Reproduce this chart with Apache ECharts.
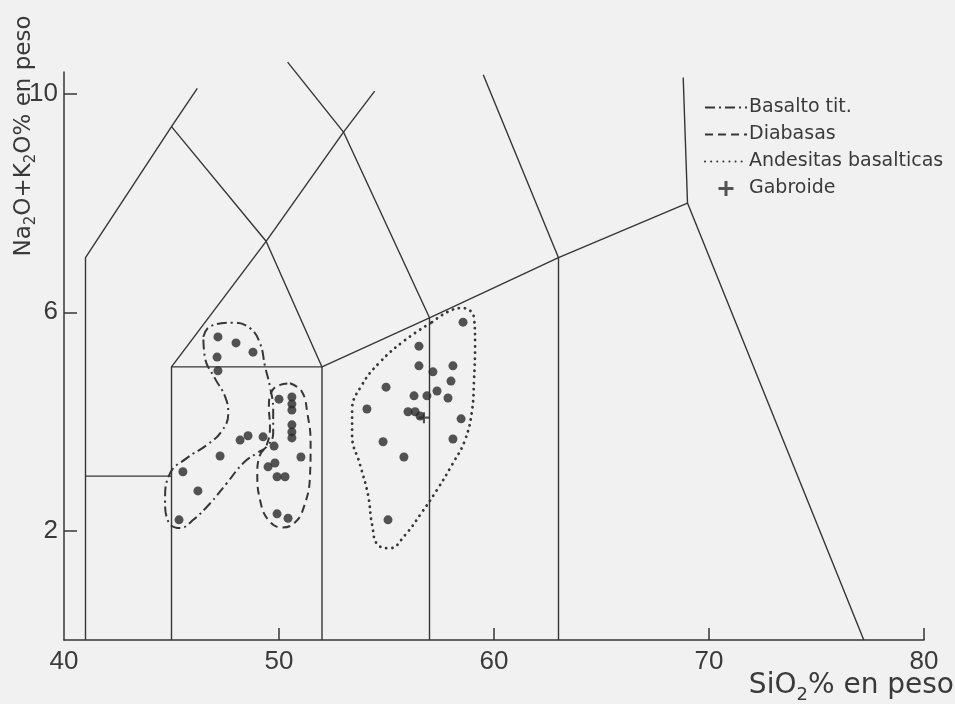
<!DOCTYPE html>
<html>
<head>
<meta charset="utf-8">
<script src="https://cdn.jsdelivr.net/npm/echarts@6/dist/echarts.min.js"></script>
<style>
html,body{margin:0;padding:0;background:#f1f1f1;}
#chart{width:955px;height:704px;}
</style>
</head>
<body>
<div id="chart"></div>
<script>
// ---- Data (SiO2 wt%, Na2O+K2O wt%) ----
const xTickLabels = [40, 50, 60, 70, 80];
const xTicks = [50, 60, 70, 80];
const yTickLabels = [2, 6, 10];

// TAS field boundaries
const tasLines = [
  [[41, 0], [41, 7], [45, 9.4], [46.2, 10.1]],
  [[41, 3], [45, 3]],
  [[45, 0], [45, 5], [49.4, 7.3], [53, 9.3], [54.45, 10.05]],
  [[45, 9.4], [49.4, 7.3], [52, 5]],
  [[45, 5], [52, 5], [57, 5.9], [63, 7], [69, 8]],
  [[52, 0], [52, 5]],
  [[57, 0], [57, 5.9]],
  [[63, 0], [63, 7]],
  [[50.4, 10.58], [53, 9.3], [57, 5.9]],
  [[59.5, 10.35], [63, 7]],
  [[68.8, 10.3], [69, 8], [77.2, 0]]
];

// Samples
const basaltoPts = [
  [47.16, 5.55], [48.0, 5.44], [47.12, 5.18], [48.79, 5.27], [47.16, 4.93],
  [48.19, 3.66], [48.56, 3.74], [49.26, 3.72], [47.26, 3.37], [45.53, 3.08],
  [46.23, 2.73], [45.35, 2.20]
];
const diabasasPts = [
  [50.0, 4.41], [50.6, 4.45], [50.6, 4.32], [50.6, 4.21], [50.6, 3.94],
  [50.6, 3.81], [50.6, 3.70], [49.77, 3.55], [51.02, 3.35], [49.81, 3.24],
  [49.49, 3.17], [49.91, 2.99], [50.28, 2.99], [49.91, 2.31], [50.42, 2.23]
];
const andesitasPts = [
  [58.56, 5.82], [56.51, 5.38], [56.51, 5.02], [58.09, 5.02], [57.16, 4.91],
  [58.0, 4.74], [54.98, 4.63], [57.35, 4.56], [56.28, 4.47], [56.88, 4.47],
  [57.86, 4.43], [54.09, 4.23], [56.0, 4.18], [56.33, 4.18], [56.56, 4.10],
  [58.47, 4.05], [58.09, 3.68], [54.84, 3.63], [55.81, 3.35], [55.07, 2.20]
];
const gabroidePts = [[56.74, 4.07]];

// Group outlines
const basaltoEnv = [
  [46.48, 5.55], [46.79, 5.74], [47.87, 5.81], [48.65, 5.71], [49.12, 5.43],
  [49.35, 5.01], [49.58, 4.64], [49.73, 4.21], [49.73, 3.79], [49.43, 3.54],
  [48.96, 3.42], [48.34, 3.24], [47.57, 2.87], [46.79, 2.50], [46.01, 2.20],
  [45.40, 2.05], [44.85, 2.17], [44.70, 2.56], [44.93, 3.05], [45.71, 3.33],
  [46.64, 3.57], [47.33, 3.82], [47.64, 4.15], [47.49, 4.46], [47.02, 4.79],
  [46.56, 5.16], [46.48, 5.55]
];
const diabasasEnv = [
  [50.51, 4.70], [51.06, 4.55], [51.32, 4.15], [51.47, 3.60], [51.44, 2.99],
  [51.16, 2.44], [50.74, 2.15], [50.13, 2.06], [49.50, 2.20], [49.12, 2.56],
  [48.99, 3.05], [49.12, 3.39], [49.43, 3.57], [49.58, 3.91], [49.53, 4.27],
  [49.66, 4.55], [50.05, 4.67], [50.51, 4.70]
];
const andesitasEnv = [
  [57.12, 5.82], [57.86, 6.01], [58.51, 6.08], [59.07, 5.90], [59.12, 5.40],
  [59.07, 4.76], [58.98, 4.21], [58.65, 3.66], [58.05, 3.21], [57.35, 2.75],
  [56.56, 2.29], [55.86, 1.92], [55.16, 1.68], [54.60, 1.74], [54.33, 2.11],
  [54.14, 2.66], [53.77, 3.21], [53.40, 3.75], [53.40, 4.21], [53.86, 4.67],
  [54.70, 5.09], [55.86, 5.49], [57.12, 5.82]
];

const legendNames = ['Basalto tit.', 'Diabasas', 'Andesitas basalticas', 'Gabroide'];

// ---- Styles ----
const ink = '#363636';
const txt = '#3a3a3a';
const numFont = "'Liberation Sans', Arial, sans-serif";
const txtFont = "'DejaVu Sans', sans-serif";
const plusPath = 'path://M4,0H6V4H10V6H6V10H4V6H0V4H4Z';

const series = [];
tasLines.forEach(function (seg) {
  series.push({
    type: 'line', data: seg, symbol: 'none', silent: true, animation: false, clip: false,
    lineStyle: { color: ink, width: 1.4 }, z: 2
  });
});
series.push({
  name: 'Basalto tit.', type: 'line', data: basaltoEnv, smooth: 0.45, symbol: 'none',
  animation: false, itemStyle: { color: ink }, lineStyle: { color: ink, width: 2, type: [10, 4, 2, 4] }, z: 3
});
series.push({
  name: 'Diabasas', type: 'line', data: diabasasEnv, smooth: 0.45, symbol: 'none',
  animation: false, itemStyle: { color: ink }, lineStyle: { color: ink, width: 2, type: [8, 5] }, z: 3
});
series.push({
  name: 'Andesitas basalticas', type: 'line', data: andesitasEnv, smooth: 0.45, symbol: 'none',
  animation: false, itemStyle: { color: ink }, lineStyle: { color: ink, width: 2.8, type: [0.1, 6], cap: 'round' }, z: 3
});
[basaltoPts, diabasasPts, andesitasPts].forEach(function (pts) {
  series.push({
    type: 'scatter', data: pts, symbol: 'circle', symbolSize: 9, animation: false,
    itemStyle: { color: '#2b2b2b' }, z: 4
  });
});
series.push({
  name: 'Gabroide', type: 'scatter', data: gabroidePts, symbol: plusPath, symbolSize: 11,
  animation: false, itemStyle: { color: '#2b2b2b' }, z: 5
});

const chart = echarts.init(document.getElementById('chart'), null, { renderer: 'canvas' });
chart.setOption({
  backgroundColor: '#f1f1f1',
  animation: false,
  grid: { left: 64, right: 31, top: 72, bottom: 64, containLabel: false },
  legend: {
    data: legendNames.map(function (n) {
      return n === 'Gabroide'
        ? { name: n, icon: plusPath, itemStyle: { color: '#2b2b2b' } }
        : { name: n, itemStyle: { opacity: 0 } };
    }),
    orient: 'vertical', left: 704, top: 98, padding: 0,
    itemWidth: 42, itemHeight: 15, itemGap: 8, selectedMode: false,
    textStyle: { fontFamily: txtFont, fontSize: 19, color: txt, padding: [0, 0, 0, -3] }
  },
  xAxis: {
    type: 'value', min: 40, max: 80,
    axisLine: { show: true, lineStyle: { color: ink, width: 1.5 } },
    axisTick: { show: true, inside: true, length: 12, customValues: xTicks, lineStyle: { color: ink, width: 1.5 } },
    axisLabel: { customValues: xTickLabels, fontFamily: numFont, fontSize: 26, color: txt, margin: 9 },
    splitLine: { show: false }
  },
  yAxis: {
    type: 'value', min: 0, max: 10.4,
    axisLine: { show: true, lineStyle: { color: ink, width: 1.5 } },
    axisTick: { show: true, inside: true, length: 13, customValues: yTickLabels, lineStyle: { color: ink, width: 1.5 } },
    axisLabel: { customValues: yTickLabels, fontFamily: numFont, fontSize: 26, color: txt, margin: 6 },
    splitLine: { show: false }
  },
  graphic: [
    {
      type: 'text', x: 24, y: 136, rotation: Math.PI / 2,
      style: {
        text: 'Na{s|2}O+K{s|2}O% en peso',
        fontFamily: txtFont, fontSize: 23, fill: txt,
        align: 'center', verticalAlign: 'middle', lineHeight: 30,
        rich: { s: { fontSize: 15, verticalAlign: 'bottom', lineHeight: 30, fill: txt, fontFamily: txtFont } }
      }
    },
    {
      type: 'text', x: 954, y: 686,
      style: {
        text: 'SiO{s|2}% en peso',
        fontFamily: txtFont, fontSize: 28, fill: txt,
        align: 'right', verticalAlign: 'middle', lineHeight: 36,
        rich: { s: { fontSize: 18, verticalAlign: 'bottom', lineHeight: 36, fill: txt, fontFamily: txtFont } }
      }
    }
  ],
  series: series
});
</script>
</body>
</html>
